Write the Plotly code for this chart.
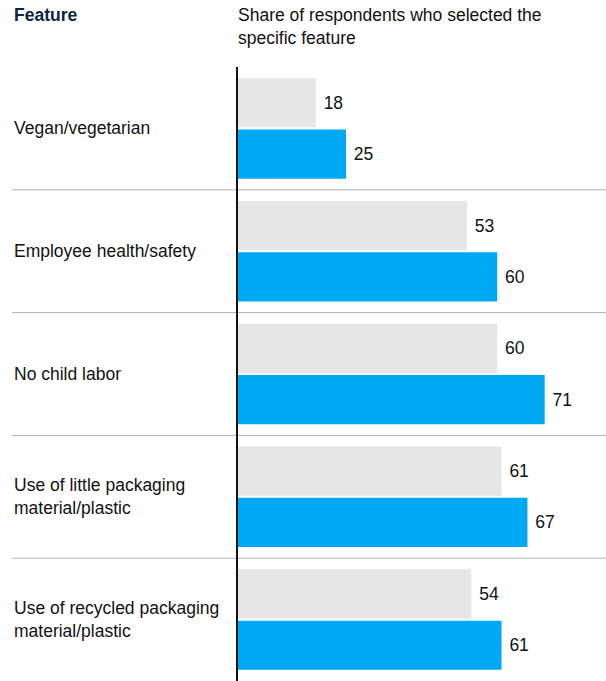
import plotly.graph_objects as go

# Survey data: share of respondents (%) choosing each product feature
features = [
    "Vegan/vegetarian",
    "Employee health/safety",
    "No child labor",
    "Use of little packaging<br>material/plastic",
    "Use of recycled packaging<br>material/plastic",
]
share_grey = [18, 53, 60, 61, 54]
share_blue = [25, 60, 71, 67, 61]

header_left = "Feature"
header_right = "Share of respondents who selected the<br>specific feature"

W, H = 606, 681
M_L, M_T, M_R, M_B = 238, 67, 0, 0
plot_w = W - M_L - M_R
plot_h = H - M_T - M_B
x_max = plot_w / 4.32

FONT = "Liberation Sans, Arial, sans-serif"
FS = 17.5
GREY = "#e6e6e6"
BLUE = "#00a9f4"

y_pos = list(range(len(features)))

fig = go.Figure()
for vals, color in ((share_grey, GREY), (share_blue, BLUE)):
    fig.add_trace(go.Bar(
        y=y_pos, x=vals, orientation="h",
        marker=dict(color=color, line=dict(width=0)),
        text=[f" {v}" for v in vals], textposition="outside",
        textfont=dict(family=FONT, size=FS, color="#111111"),
        cliponaxis=False, hoverinfo="skip",
    ))

# Category labels, left aligned in the margin
for i, label in enumerate(features):
    fig.add_annotation(
        x=-(M_L - 12) / plot_w, xref="paper", xanchor="left",
        y=i, yref="y", yanchor="middle",
        text=label, align="left", showarrow=False,
        font=dict(family=FONT, size=FS, color="#111111"),
    )

# Separators between categories
for i in range(len(features) - 1):
    fig.add_shape(
        type="line", xref="paper", yref="y",
        x0=-(M_L - 12) / plot_w, x1=1, y0=i + 0.5, y1=i + 0.5,
        line=dict(color="#b3b3b3", width=1), layer="below",
    )

# Column headers
fig.add_annotation(
    x=-(M_L - 12) / plot_w, xref="paper", xanchor="left",
    y=1 + (M_T - 3) / plot_h, yref="paper", yanchor="top",
    text="<b>" + header_left + "</b>", showarrow=False, align="left",
    font=dict(family=FONT, size=FS, color="#0b2440"),
)
fig.add_annotation(
    x=-2 / plot_w, xref="paper", xanchor="left",
    y=1 + (M_T - 3) / plot_h, yref="paper", yanchor="top",
    text=header_right, showarrow=False, align="left",
    font=dict(family=FONT, size=FS, color="#111111"),
)

fig.update_layout(
    width=W, height=H,
    margin=dict(l=M_L, r=M_R, t=M_T, b=M_B, pad=0),
    paper_bgcolor="white", plot_bgcolor="white",
    barmode="group", bargap=0.165, bargroupgap=0.04,
    showlegend=False,
    xaxis=dict(range=[0, x_max], visible=False, fixedrange=True),
    yaxis=dict(
        range=[len(features) - 0.5, -0.5],
        showticklabels=False, showgrid=False, zeroline=False,
        showline=True, linecolor="#111111", linewidth=1.5,
        ticks="", fixedrange=True,
    ),
)

fig.write_html("out.html")
